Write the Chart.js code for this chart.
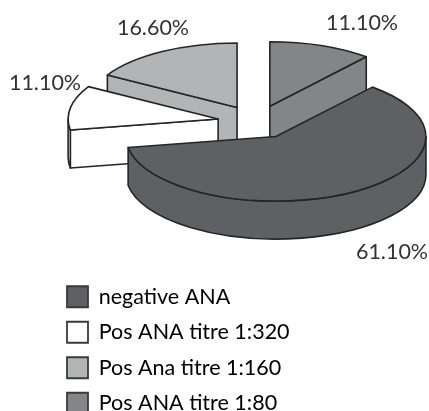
<!DOCTYPE html>
<html>
<head>
<meta charset="utf-8">
<style>html,body{margin:0;padding:0;background:#fff}canvas{display:block;filter:blur(0.4px)}</style>
<script src="https://cdn.jsdelivr.net/npm/chart.js@4/dist/chart.umd.js"></script>
</head>
<body>
<canvas id="c" width="429" height="411"></canvas>
<script>
const categories = ['negative ANA', 'Pos ANA titre 1:320', 'Pos Ana titre 1:160', 'Pos ANA titre 1:80'];
const percentValues = [61.1, 11.1, 16.6, 11.1];
const sliceColors = ['#5f6064', '#ffffff', '#b3b4b6', '#848588'];

const TILT = 0.43, DEPTH = 38, EXPLODE = 39, RADIUS = 150;
const LINE = '#252527', TEXT = '#333335', FONT = 'Lato';
const labelAnchors = [[392, 252], [45, 83], [153, 28], [362, 23]];

function geom(el) {
  const a0 = el.startAngle, a1 = el.endAngle, r = el.outerRadius, mid = (a0 + a1) / 2;
  const ox = el.x + Math.cos(mid) * EXPLODE, oy = el.y + Math.sin(mid) * EXPLODE * TILT;
  return {a0, a1, r, ox, oy, pt: a => [ox + Math.cos(a) * r, oy + Math.sin(a) * r * TILT]};
}
function styleStroke(ctx) { ctx.strokeStyle = LINE; ctx.lineWidth = 1.6; ctx.lineJoin = 'round'; ctx.stroke(); }
function cutFace(ctx, g, a, color) {
  const [x, y] = g.pt(a);
  ctx.beginPath();
  ctx.moveTo(g.ox, g.oy); ctx.lineTo(x, y); ctx.lineTo(x, y + DEPTH); ctx.lineTo(g.ox, g.oy + DEPTH);
  ctx.closePath(); ctx.fillStyle = color; ctx.fill(); styleStroke(ctx);
}
function drawWalls(ctx, el) {
  const g = geom(el), color = el.options.backgroundColor;
  if (Math.cos(g.a0) < -1e-6) cutFace(ctx, g, g.a0, color);
  if (Math.cos(g.a1) > 1e-6) cutFace(ctx, g, g.a1, color);
  const lo = Math.max(g.a0, 0), hi = Math.min(g.a1, Math.PI);
  if (lo < hi) {
    ctx.beginPath();
    ctx.ellipse(g.ox, g.oy, g.r, g.r * TILT, 0, lo, hi);
    ctx.ellipse(g.ox, g.oy + DEPTH, g.r, g.r * TILT, 0, hi, lo, true);
    ctx.closePath(); ctx.fillStyle = color; ctx.fill(); styleStroke(ctx);
  }
}
function drawTop(ctx, el) {
  const g = geom(el);
  ctx.save();
  ctx.translate(g.ox, g.oy); ctx.scale(1, TILT); ctx.translate(-el.x, -el.y);
  el.draw(ctx);
  ctx.restore();
  ctx.beginPath();
  ctx.moveTo(g.ox, g.oy);
  ctx.ellipse(g.ox, g.oy, g.r, g.r * TILT, 0, g.a0, g.a1);
  ctx.closePath(); styleStroke(ctx);
}
const pie3d = {
  id: 'pie3d',
  afterLayout(chart) {
    const lg = chart.legend;
    lg.left = 53; lg.right = 429; lg.top = 272; lg.bottom = 520;
  },
  beforeDatasetDraw(chart, args) {
    const ctx = chart.ctx, arcs = args.meta.data;
    ctx.save();
    [...arcs].reverse().forEach(el => drawWalls(ctx, el));
    arcs.forEach(el => drawTop(ctx, el));
    ctx.fillStyle = TEXT;
    ctx.font = '21.5px ' + FONT;
    ctx.textAlign = 'center'; ctx.textBaseline = 'middle';
    percentValues.forEach((v, i) => ctx.fillText(v.toFixed(2) + '%', labelAnchors[i][0], labelAnchors[i][1]));
    ctx.restore();
    return false;
  }
};
new Chart(document.getElementById('c'), {
  type: 'pie',
  data: {
    labels: categories,
    datasets: [{data: percentValues, backgroundColor: sliceColors, borderWidth: 0, clip: false}]
  },
  options: {
    responsive: false,
    animation: false,
    rotation: 40,
    radius: RADIUS,
    layout: {padding: {left: 84, right: 0, top: 0, bottom: 167}},
    plugins: {
      tooltip: {enabled: false},
      legend: {
        position: 'chartArea',
        align: 'start',
        labels: {
          boxWidth: 21, boxHeight: 21, padding: 14, color: TEXT,
          font: {family: FONT, size: 21.5},
          generateLabels: chart => categories.map((t, i) => ({
            text: t, fillStyle: sliceColors[i], strokeStyle: '#3a3a3c', lineWidth: 1.8, index: i, hidden: false
          }))
        }
      }
    }
  },
  plugins: [pie3d]
});
</script>
</body>
</html>
